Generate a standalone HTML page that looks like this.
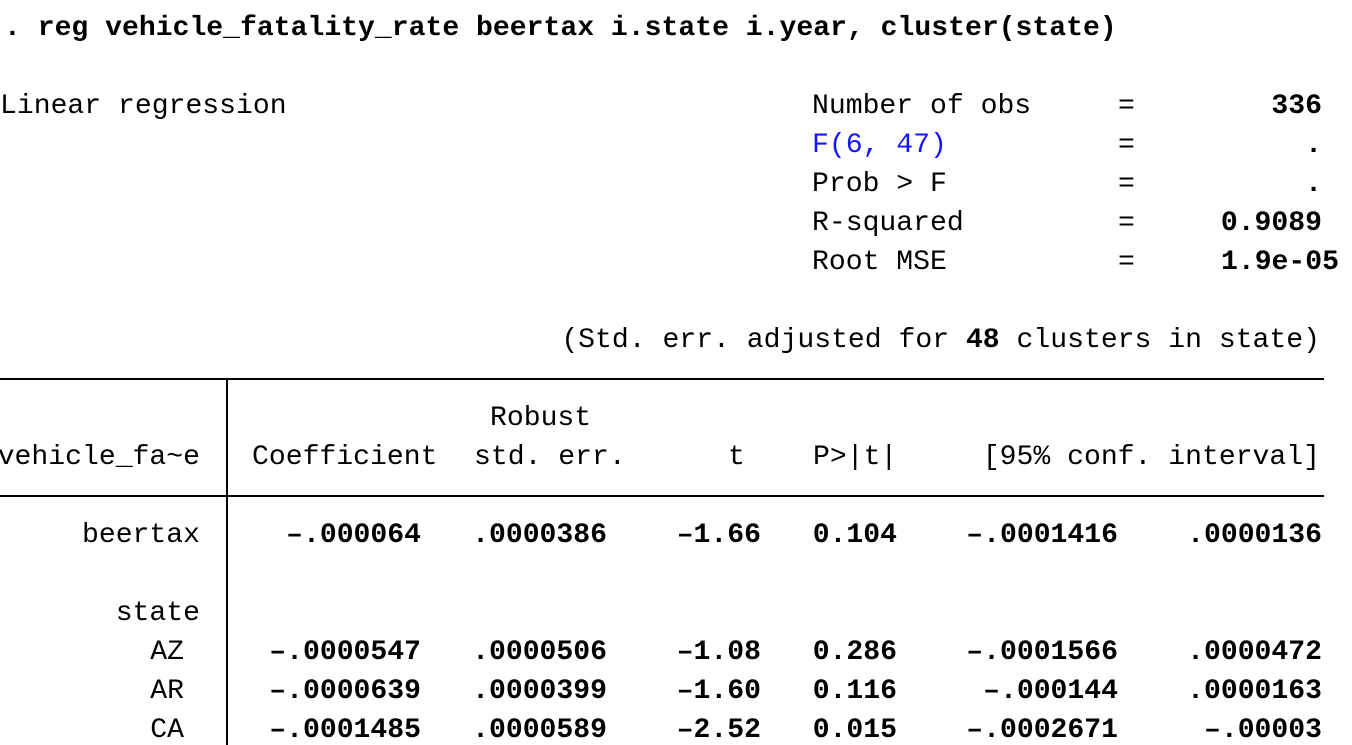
<!DOCTYPE html>
<html><head><meta charset="utf-8">
<style>
html,body{margin:0;padding:0;background:#fff;}
#w{position:relative;width:1352px;height:745px;overflow:hidden;font-family:"Liberation Mono",monospace;font-size:28.1px;color:#000;}
#w span{position:absolute;white-space:pre;line-height:30px;height:30px;}
.b{font-weight:bold;}
.hl{position:absolute;height:1.5px;background:#000;left:0;width:1324px;}
.vl{position:absolute;width:1.5px;background:#000;left:226px;top:379px;height:366px;}
</style></head><body>
<div id="w">
<span class="b" style="left:4px;top:14px">. reg vehicle_fatality_rate beertax i.state i.year, cluster(state)</span>

<span style="left:0;top:92px">Linear regression</span>
<span style="left:812px;top:92px">Number of obs</span>
<span style="left:812px;top:131px;color:#1414ff">F(6, 47)</span>
<span style="left:812px;top:170px">Prob &gt; F</span>
<span style="left:812px;top:209px">R-squared</span>
<span style="left:812px;top:248px">Root MSE</span>
<span style="left:1118px;top:92px">=</span>
<span style="left:1118px;top:131px">=</span>
<span style="left:1118px;top:170px">=</span>
<span style="left:1118px;top:209px">=</span>
<span style="left:1118px;top:248px">=</span>
<span class="b" style="right:30px;top:92px">336</span>
<span class="b" style="right:30px;top:131px">.</span>
<span class="b" style="right:30px;top:170px">.</span>
<span class="b" style="right:30px;top:209px">0.9089</span>
<span class="b" style="right:13px;top:248px">1.9e-05</span>

<span style="right:32px;top:326px">(Std. err. adjusted for <b>48</b> clusters in state)</span>

<div class="hl" style="top:378px"></div>
<div class="hl" style="top:495px"></div>
<div class="vl"></div>

<span style="left:490px;top:404px">Robust</span>
<span style="right:1152px;top:443px">vehicle_fa~e</span>
<span style="left:252px;top:443px">Coefficient</span>
<span style="left:474px;top:443px">std. err.</span>
<span style="left:728px;top:443px">t</span>
<span style="left:813px;top:443px">P&gt;|t|</span>
<span style="right:32px;top:443px">[95% conf. interval]</span>
</div>
<script>
const labels=["beertax","state","AZ","AR","CA"];
const rowTops=[521,599,638,677,716];
const indent=[0,0,16,16,16];
const coefs=["-.000064","","-.0000547","-.0000639","-.0001485"];
const ses=[".0000386","",".0000506",".0000399",".0000589"];
const ts=["-1.66","","-1.08","-1.60","-2.52"];
const ps=["0.104","","0.286","0.116","0.015"];
const los=["-.0001416","","-.0001566","-.000144","-.0002671"];
const his=[".0000136","",".0000472",".0000163","-.00003"];
const rights=[931,745,591,455,234,30];
const w=document.getElementById('w');
function mk(txt,right,top,name){
  const s=document.createElement('span');
  s.textContent=txt.replace(/-/g,'\u2013');
  s.style.right=right+'px';s.style.top=top+'px';
  s.className='b';
  
  
  w.appendChild(s);
}
labels.forEach((l,i)=>{
  const s=document.createElement('span');
  s.textContent=l;s.style.right=(1152+indent[i])+'px';s.style.top=rowTops[i]+'px';
  
  
  w.appendChild(s);
  const vals=[coefs[i],ses[i],ts[i],ps[i],los[i],his[i]];
  vals.forEach((v,j)=>{ if(v) mk(v,rights[j],rowTops[i],'cell-value'); });
});
</script>
</body></html>
